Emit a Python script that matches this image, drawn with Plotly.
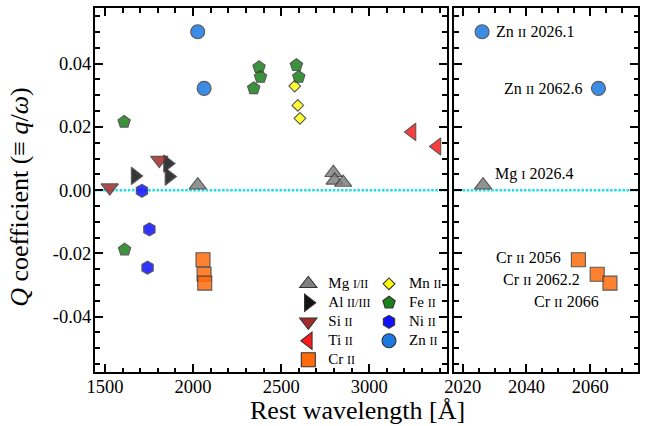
import plotly.graph_objects as go

# ---------------- data ----------------
mg_wave = [2026.4, 2796.4, 2803.5, 2852.1]
mg_q = [0.0016, 0.0055, 0.0031, 0.0024]

al_wave = [1670.8, 1854.7, 1862.8]
al_q = [0.0045, 0.0084, 0.0043]

si_wave = [1526.7, 1808.0]
si_q = [0.0008, 0.0095]

ti_wave = [3242.9, 3384.7]
ti_q = [0.0184, 0.0138]

cr_wave = [2056.3, 2062.2, 2066.2]
cr_q = [-0.0220, -0.0266, -0.0294]

mn_wave = [2576.9, 2594.5, 2606.5]
mn_q = [0.0329, 0.0268, 0.0227]

fe_wave = [1608.5, 1611.2, 2344.2, 2374.5, 2382.8, 2586.7, 2600.2]
fe_q = [0.0216, -0.0188, 0.0322, 0.0389, 0.0358, 0.0395, 0.0358]

ni_wave = [1709.6, 1741.5, 1751.9]
ni_q = [-0.0002, -0.0245, -0.0124]

zn_wave = [2026.1, 2062.6]
zn_q = [0.0501, 0.0322]

left_xticks = [1500, 2000, 2500, 3000]
right_xticks = [2020, 2040, 2060]
y_ticks = [-0.04, -0.02, 0.0, 0.02, 0.04]
y_ticktext = ["-0.04", "-0.02", "0.00", "0.02", "0.04"]

FONT = "Liberation Serif, Times New Roman, serif"


def sc(txt, size):
    return "<span style='font-size:%dpx'>%s</span>" % (size, txt)


# legend column 1 / column 2
species = [
    dict(name="Mg " + sc("I/II", 12), wave=mg_wave, q=mg_q, symbol="triangle-up", color="#808080", size=15, leg="legend"),
    dict(name="Al " + sc("II/III", 12), wave=al_wave, q=al_q, symbol="triangle-right", color="#141414", size=15, leg="legend"),
    dict(name="Si " + sc("II", 12), wave=si_wave, q=si_q, symbol="triangle-down", color="#a52a2a", size=15, leg="legend"),
    dict(name="Ti " + sc("II", 12), wave=ti_wave, q=ti_q, symbol="triangle-left", color="#ff1a1a", size=15, leg="legend"),
    dict(name="Cr " + sc("II", 12), wave=cr_wave, q=cr_q, symbol="square", color="#ff6a0a", size=14, leg="legend"),
    dict(name="Mn " + sc("II", 12), wave=mn_wave, q=mn_q, symbol="diamond", color="#ffff10", size=9, leg="legend2"),
    dict(name="Fe " + sc("II", 12), wave=fe_wave, q=fe_q, symbol="pentagon", color="#1a801a", size=13, leg="legend2"),
    dict(name="Ni " + sc("II", 12), wave=ni_wave, q=ni_q, symbol="hexagon", color="#1010ff", size=13, leg="legend2"),
    dict(name="Zn " + sc("II", 12), wave=zn_wave, q=zn_q, symbol="circle", color="#1a78e0", size=14, leg="legend2"),
]

# labels in the zoom panel: (text, wave, q, xanchor, xshift, yshift)
zoom_labels = [
    ("Zn " + sc("II", 13) + " 2026.1", zn_wave[0], zn_q[0], "left", 12, 0),
    ("Zn " + sc("II", 13) + " 2062.6", zn_wave[1], zn_q[1], "right", -14, 0),
    ("Mg " + sc("I", 13) + " 2026.4", mg_wave[0], mg_q[0], "left", 10, 11),
    ("Cr " + sc("II", 13) + " 2056", cr_wave[0], cr_q[0], "right", -15, 2),
    ("Cr " + sc("II", 13) + " 2062.2", cr_wave[1], cr_q[1], "right", -15, -5),
    ("Cr " + sc("II", 13) + " 2066", cr_wave[2], cr_q[2], "right", -9, -18),
]

fig = go.Figure()

for sp in species:
    for xa, ya in (("x", "y"), ("x2", "y2")):
        fig.add_trace(go.Scatter(
            x=sp["wave"], y=sp["q"], mode="markers", xaxis=xa, yaxis=ya,
            showlegend=False, hoverinfo="skip",
            marker=dict(symbol=sp["symbol"], color=sp["color"], size=sp["size"],
                        opacity=0.85, line=dict(color="#3c3c3c", width=1.1)),
        ))

# legend entries (full opacity like the reference legend)
for sp in species:
    fig.add_trace(go.Scatter(
        x=[None], y=[None], mode="markers",
        name="<span style='font-size:15px'>" + sp["name"] + "</span>",
        legend=sp["leg"], showlegend=True, xaxis="x", yaxis="y",
        marker=dict(symbol=sp["symbol"], color=sp["color"], size=sp["size"],
                    line=dict(color="#333333", width=1.1)),
    ))

for txt, wx, qy, xa, xs, ys in zoom_labels:
    fig.add_annotation(x=wx, y=qy, xref="x2", yref="y2", text=txt, showarrow=False,
                       xanchor=xa, yanchor="middle", xshift=xs, yshift=ys,
                       font=dict(family=FONT, size=16, color="black"))

# zero line (dotted cyan) in both panels
for xr, yr in (("x domain", "y"), ("x2 domain", "y2")):
    fig.add_shape(type="line", xref=xr, yref=yr, x0=0, x1=1, y0=0, y1=0,
                  line=dict(color="#1fdde5", width=2.5, dash="2.5px,1.6px"), layer="below")

axis_common = dict(showline=True, linewidth=2, linecolor="black", mirror="allticks",
                   ticks="inside", ticklen=8, tickwidth=1.8, tickcolor="black",
                   showgrid=False, zeroline=False,
                   tickfont=dict(family=FONT, size=18.5, color="black"))

minor_common = dict(ticklen=4.5, tickwidth=1.5, ticks="inside", tickcolor="black", showgrid=False)

fig.update_layout(
    width=646, height=426,
    margin=dict(l=95, r=6, t=6, b=54),
    paper_bgcolor="white", plot_bgcolor="white",
    xaxis=dict(domain=[0, 0.6477], range=[1443, 3440], tickmode="array", tickvals=left_xticks,
               minor=dict(dtick=100, **minor_common), ticklabelstandoff=-3, **axis_common),
    xaxis2=dict(domain=[0.6618, 1], range=[2017.4, 2075], tickmode="array", tickvals=right_xticks,
                minor=dict(dtick=5, **minor_common), ticklabelstandoff=-3,
                anchor="y2", **axis_common),
    yaxis=dict(range=[-0.0575, 0.0576], tickmode="array", tickvals=y_ticks, ticktext=y_ticktext,
               minor=dict(dtick=0.005, **minor_common), ticklabelstandoff=-2, **axis_common),
    yaxis2=dict(range=[-0.0575, 0.0576], tickmode="array", tickvals=y_ticks, showticklabels=False,
                minor=dict(dtick=0.005, **minor_common), anchor="x2", **axis_common),
    legend=dict(x=0.356, y=0.2822, xanchor="left", yanchor="top", bgcolor="rgba(0,0,0,0)",
                borderwidth=0, font=dict(family=FONT, size=11, color="black"), itemsizing="trace"),
    legend2=dict(x=0.5046, y=0.2822, xanchor="left", yanchor="top", bgcolor="rgba(0,0,0,0)",
                 borderwidth=0, font=dict(family=FONT, size=11, color="black"), itemsizing="trace"),
    showlegend=True,
)

# axis titles
fig.add_annotation(xref="paper", yref="paper", x=0.4835, y=-0.106, text="Rest wavelength [Å]",
                   showarrow=False, xanchor="center", yanchor="middle",
                   font=dict(family=FONT, size=26, color="black"))
fig.add_annotation(xref="paper", yref="paper", x=-0.139, y=0.48,
                   text="<i>Q</i> coefficient (≡ <i>q</i>/<i>ω</i>)", textangle=-90,
                   showarrow=False, xanchor="center", yanchor="middle",
                   font=dict(family=FONT, size=26, color="black"))

fig.write_html("out.html")
